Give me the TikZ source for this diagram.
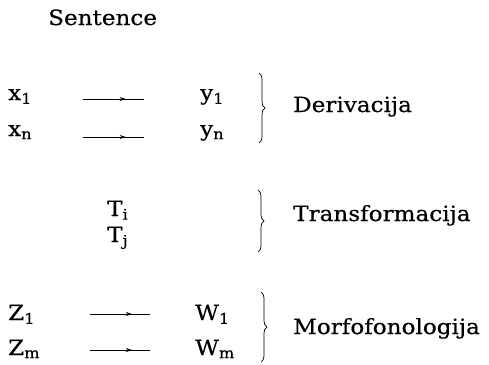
\documentclass[tikz,border=0pt]{standalone}
\usepackage{fontspec}
\setmainfont{DejaVu Serif}[FakeStretch=1.1, FakeBold=0.4]
\usetikzlibrary{arrows.meta,decorations.markings,decorations.pathreplacing}

\tikzset{
  lbl/.style={anchor=base west, inner sep=0pt, font=\fontsize{21}{24}\selectfont},
  midarrow/.style={line width=0.7pt, postaction={decorate},
    decoration={markings, mark=at position 0.7 with {\arrow{Stealth[length=6pt,width=4pt]}}}},
  grp/.style={line width=0.7pt, decorate, decoration={brace, amplitude=6pt}}
}

\begin{document}
\begin{tikzpicture}[x=1pt,y=1pt]
	\useasboundingbox (0,0) rectangle (489,-364);
	
	\node[lbl] (sent) at (48,-25) {Sentence};
	
	% derivacija
	\node[lbl] (x1) at (8,-100) {x\textsubscript{1}};
	\node[lbl] (xn) at (8,-136) {x\textsubscript{n}};
	\node[lbl] (y1) at (200,-100) {y\textsubscript{1}};
	\node[lbl] (yn) at (200,-136) {y\textsubscript{n}};
	\coordinate (a1s) at (83,-99);
	\coordinate (a1e) at (144,-99);
	\coordinate (ans) at (83,-137);
	\coordinate (ane) at (144,-137);
	\draw[midarrow] (a1s) -- (a1e);
	\draw[midarrow] (ans) -- (ane);
	\coordinate (d1) at (259,-73);
	\coordinate (d2) at (259,-143);
	\draw[grp] (d1) -- (d2);
	\node[lbl] (der) at (293,-112) {Derivacija};
	
	% transformacija
	\node[lbl] (ti) at (107,-216) {T\textsubscript{i}};
	\node[lbl] (tj) at (107,-242) {T\textsubscript{j}};
	\coordinate (t1) at (258,-190);
	\coordinate (t2) at (258,-252);
	\draw[grp] (t1) -- (t2);
	\node[lbl] (trans) at (293,-221) {Transformacija};
	
	% morfofonologija
	\node[lbl] (z1) at (8,-320) {Z\textsubscript{1}};
	\node[lbl] (zm) at (8,-355) {Z\textsubscript{m}};
	\node[lbl] (w1) at (195,-320) {W\textsubscript{1}};
	\node[lbl] (wm) at (195,-355) {W\textsubscript{m}};
	\coordinate (b1s) at (90,-314);
	\coordinate (b1e) at (150,-314);
	\coordinate (bms) at (90,-350);
	\coordinate (bme) at (150,-350);
	\draw[midarrow] (b1s) -- (b1e);
	\draw[midarrow] (bms) -- (bme);
	\coordinate (m1) at (261,-292);
	\coordinate (m2) at (261,-362);
	\draw[grp] (m1) -- (m2);
	\node[lbl] (morf) at (293,-334) {Morfofonologija};
	
\end{tikzpicture}
\end{document}
